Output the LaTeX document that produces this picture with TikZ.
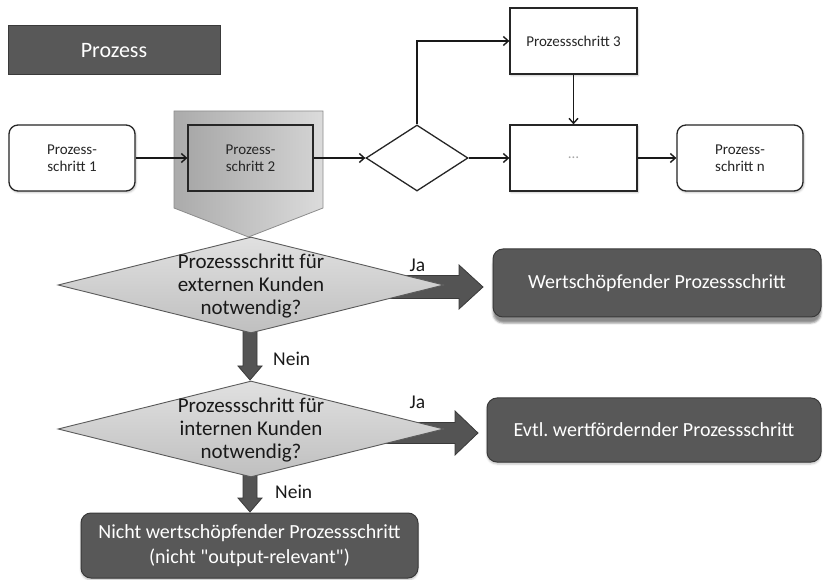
\documentclass[tikz,border=0pt]{standalone}
\usepackage{fontspec}
\setmainfont{Carlito}[Ligatures=TeXOff]
\usetikzlibrary{shapes.geometric,arrows.meta,shadows.blur}
\frenchspacing

\definecolor{darkfill}{HTML}{585858}
\definecolor{darkline}{HTML}{3A3A3A}
\definecolor{arrowfill}{HTML}{545454}
\definecolor{qline}{HTML}{5A5A5A}

\tikzset{
  plainstep/.style={draw=black!85, line width=1.3pt, fill=white, inner sep=0pt,
    minimum width=126pt, minimum height=66pt, align=center,
    font=\fontsize{15}{17}\selectfont, text=black!85},
  stepbox/.style={plainstep,
    blur shadow={shadow xshift=1pt, shadow yshift=-1.5pt, shadow opacity=25, shadow blur steps=4}},
  roundstep/.style={stepbox, rounded corners=9pt},
  darkbox/.style={draw=darkline, line width=1pt, fill=darkfill, text=white,
    inner sep=0pt, align=center, font=\fontsize{20}{25}\selectfont},
  resultbox/.style={darkbox, rounded corners=10pt},
  question/.style={diamond, draw=qline, line width=0.9pt, top color=black!12,
    bottom color=black!25, inner sep=0pt, minimum width=386pt, minimum height=96pt},
  qtext/.style={align=center, font=\fontsize{21}{23}\selectfont, text=black!90},
  flow/.style={draw=black!90, line width=1.4pt, -{Straight Barb[length=5pt,width=9pt]}},
  bigarrow/.style={draw=darkline, line width=0.8pt, fill=arrowfill, line join=miter},
  answer/.style={font=\fontsize{19.5}{22}\selectfont, text=black!90, inner sep=0pt}
}

\begin{document}
\begin{tikzpicture}[x=1pt,y=-1pt]
\useasboundingbox (0,0) rectangle (823,580);

% title
\node[darkbox, minimum width=212pt, minimum height=49pt, font=\fontsize{22}{26}\selectfont]
  (title) at (114,50.5) {Prozess};

% highlighted process step (chevron behind step 2)
\path[draw=black!45, line width=0.8pt, left color=black!33, right color=black!14]
  (174,111) -- (323,111) -- (323,208) -- (248.5,237) -- (174,208) -- cycle;

% process chain
\node[roundstep] (s1) at (72,158) {Prozess-\\schritt 1};
\node[plainstep, minimum width=125pt, left color=black!34, right color=black!18]
  (s2) at (250.5,158) {Prozess-\\schritt 2};
\node[diamond, draw=black!85, line width=1.3pt, fill=white, inner sep=0pt,
  minimum width=102pt, minimum height=66pt] (d) at (417,158) {};
\node[stepbox, minimum width=127pt] (s3) at (573.5,41) {Prozessschritt 3};
\node[stepbox, minimum width=127pt, text=black!35] (dots) at (573.5,158) {\dots};
\node[roundstep] (sn) at (740,158) {Prozess-\\schritt n};
\coordinate (turn) at (417,41);

\draw[flow] (s1) -- (s2);
\draw[flow] (s2) -- (d);
\draw[flow] (d.north) -- (turn) -- (s3.west);
\draw[flow] (s3) -- (dots);
\draw[flow] (d) -- (dots);
\draw[flow] (dots) -- (sn);

% result boxes
\node[resultbox, minimum width=328pt, minimum height=68pt,
  blur shadow={shadow xshift=0pt, shadow yshift=-6pt, shadow opacity=45, shadow blur steps=3}]
  (r1) at (657,283) {Wertschöpfender Prozessschritt};
\node[resultbox, minimum width=334pt, minimum height=64pt,
  blur shadow={shadow xshift=0pt, shadow yshift=-2pt, shadow opacity=25, shadow blur steps=4}]
  (r2) at (654,430) {Evtl. wertfördernder Prozessschritt};
\node[resultbox, minimum width=337pt, minimum height=65pt,
  blur shadow={shadow xshift=0pt, shadow yshift=-2pt, shadow opacity=25, shadow blur steps=4}]
  (r3) at (249.5,545.5) {Nicht wertschöpfender Prozessschritt\\(nicht "output-relevant")};

% block arrows (drawn before the questions, which cover their tails)
\path[bigarrow] (380,275.5) -- (459,275.5) -- (459,265) -- (483,287) -- (459,309) -- (459,298.5) -- (380,298.5) -- cycle;
\path[bigarrow] (375,422.5) -- (455,422.5) -- (455,411) -- (478,433) -- (455,455) -- (455,443.5) -- (375,443.5) -- cycle;
\path[bigarrow] (243,320) -- (257,320) -- (257,366) -- (262,366) -- (250,380) -- (238,366) -- (243,366) -- cycle;
\path[bigarrow] (243,465) -- (257,465) -- (257,498) -- (262,498) -- (250,512) -- (238,498) -- (243,498) -- cycle;

% questions
\node[question] (q1) at (251,285) {};
\node[qtext] (q1t) at (251,286) {Prozessschritt für\\externen Kunden\\notwendig?};
\node[question] (q2) at (251,429) {};
\node[qtext] (q2t) at (251,430) {Prozessschritt für\\internen Kunden\\notwendig?};

% answers
\node[answer] (ja1) at (417.5,265) {Ja};
\node[answer] (ja2) at (417.5,402) {Ja};
\node[answer, anchor=west] (nein1) at (273,359) {Nein};
\node[answer, anchor=west] (nein2) at (275,492) {Nein};
\end{tikzpicture}
\end{document}
